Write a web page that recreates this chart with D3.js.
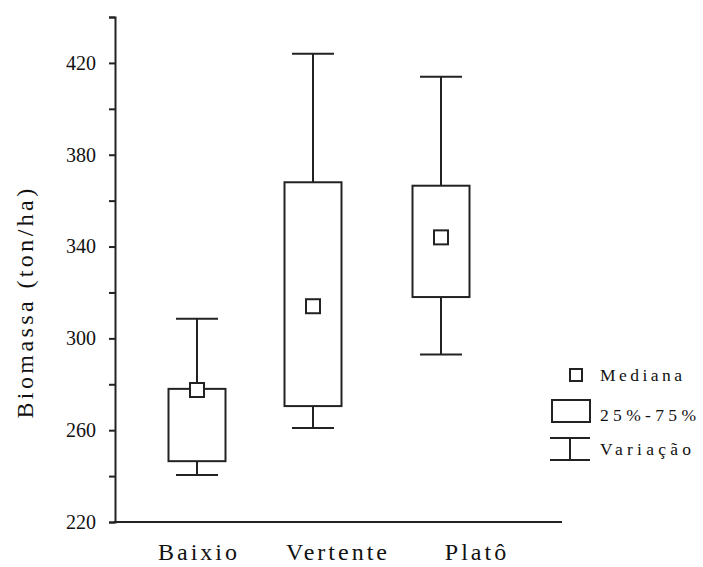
<!DOCTYPE html>
<html>

<head>
    <meta charset="UTF-8">
    <title>Biomassa</title>
</head>

<body style="margin:0">
    <script src="https://d3js.org/d3.v7.min.js"></script>
    <script>
        // data
        var categories = ["Baixio", "Vertente", "Platô"];
        var minimo = [240.5, 261, 293];
        var q25 = [246.5, 270.5, 318];
        var mediana = [277.5, 314, 344];
        var q75 = [278, 368, 366.5];
        var maximo = [308.5, 424, 414];
        var tickLabels = [220, 260, 300, 340, 380, 420];
        var legendLabels = ["Mediana", "25%-75%", "Variação"];

        var width = 703,
            height = 567,
            boxW = 57,
            capW = 42,
            medW = 14,
            font = "'Liberation Serif'",
            ink = "#222";

        var svg = d3.select("body").append("svg")
            .attr("width", width)
            .attr("height", height)
            .style("font-family", font);

        var y = d3.scaleLinear().domain([220, 440]).range([522, 17]);
        // box centres are not evenly spaced in the original
        var x = d3.scaleOrdinal().domain(categories).range([197, 313, 441]);
        var xLabel = d3.scaleOrdinal().domain(categories).range([199, 338, 477]);

        // y axis
        var yAxis = svg.append("g")
            .attr("transform", "translate(115,0)")
            .call(d3.axisLeft(y)
                .tickValues(d3.range(220, 441, 20))
                .tickSizeOuter(0)
                .tickSize(6)
                .tickPadding(13)
                .tickFormat(function (d) {
                    return tickLabels.indexOf(d) >= 0 ? d : "";
                }));
        yAxis.attr("font-family", null).attr("font-size", null);
        yAxis.select(".domain").attr("stroke", ink).attr("stroke-width", 2);
        yAxis.selectAll(".tick line").attr("stroke", ink).attr("stroke-width", 2);
        yAxis.selectAll("text")
            .style("font-family", font)
            .style("font-size", "20px")
            .attr("fill", "#111");

        // x axis line
        svg.append("line")
            .attr("x1", 114).attr("x2", 562)
            .attr("y1", y(220)).attr("y2", y(220))
            .attr("stroke", ink)
            .attr("stroke-width", 2);

        // category labels
        svg.selectAll(".xlab")
            .data(categories)
            .enter().append("text")
            .attr("class", "xlab")
            .attr("x", function (d) { return xLabel(d); })
            .attr("y", 560)
            .attr("text-anchor", "middle")
            .attr("fill", "#111")
            .style("font-family", font)
            .style("font-size", "24px")
            .style("letter-spacing", "3px")
            .text(function (d) { return d; });

        // y title
        svg.append("text")
            .attr("transform", "translate(33,302) rotate(-90)")
            .attr("text-anchor", "middle")
            .attr("fill", "#111")
            .style("font-family", font)
            .style("font-size", "24px")
            .style("letter-spacing", "3.4px")
            .text("Biomassa (ton/ha)");

        // boxes
        var g = svg.selectAll(".box")
            .data(categories)
            .enter().append("g")
            .attr("class", "box")
            .attr("fill", "#fff")
            .attr("stroke", ink)
            .attr("stroke-width", 2);

        // whiskers
        g.append("line")
            .attr("x1", function (d) { return x(d); })
            .attr("x2", function (d) { return x(d); })
            .attr("y1", function (d, i) { return y(maximo[i]); })
            .attr("y2", function (d, i) { return y(q75[i]); });
        g.append("line")
            .attr("x1", function (d) { return x(d); })
            .attr("x2", function (d) { return x(d); })
            .attr("y1", function (d, i) { return y(q25[i]); })
            .attr("y2", function (d, i) { return y(minimo[i]); });
        g.append("line")
            .attr("x1", function (d) { return x(d) - capW / 2; })
            .attr("x2", function (d) { return x(d) + capW / 2; })
            .attr("y1", function (d, i) { return y(maximo[i]); })
            .attr("y2", function (d, i) { return y(maximo[i]); });
        g.append("line")
            .attr("x1", function (d) { return x(d) - capW / 2; })
            .attr("x2", function (d) { return x(d) + capW / 2; })
            .attr("y1", function (d, i) { return y(minimo[i]); })
            .attr("y2", function (d, i) { return y(minimo[i]); });

        g.append("rect")
            .attr("x", function (d) { return x(d) - boxW / 2; })
            .attr("width", boxW)
            .attr("y", function (d, i) { return y(q75[i]); })
            .attr("height", function (d, i) { return y(q25[i]) - y(q75[i]); });

        g.append("rect")
            .attr("x", function (d) { return x(d) - medW / 2; })
            .attr("width", medW)
            .attr("y", function (d, i) { return y(mediana[i]) - medW / 2; })
            .attr("height", medW);

        // legend
        var leg = svg.append("g")
            .attr("fill", "#fff")
            .attr("stroke", ink)
            .attr("stroke-width", 2);
        leg.append("rect")
            .attr("x", 570).attr("y", 369).attr("width", 12).attr("height", 12);
        leg.append("rect")
            .attr("x", 552).attr("y", 400).attr("width", 38).attr("height", 22);
        leg.append("line").attr("x1", 550).attr("x2", 590).attr("y1", 438).attr("y2", 438);
        leg.append("line").attr("x1", 550).attr("x2", 590).attr("y1", 460).attr("y2", 460);
        leg.append("line").attr("x1", 570).attr("x2", 570).attr("y1", 438).attr("y2", 460);

        var legW = [82, 96, 91];
        svg.selectAll(".legtext")
            .data(legendLabels)
            .enter().append("text")
            .attr("class", "legtext")
            .attr("x", 600)
            .attr("y", function (d, i) { return [381, 421, 455][i]; })
            .attr("textLength", function (d, i) { return legW[i]; })
            .attr("lengthAdjust", "spacing")
            .attr("fill", "#111")
            .style("font-family", font)
            .style("font-size", "17.5px")
            .text(function (d) { return d; });
    </script>
</body>

</html>
